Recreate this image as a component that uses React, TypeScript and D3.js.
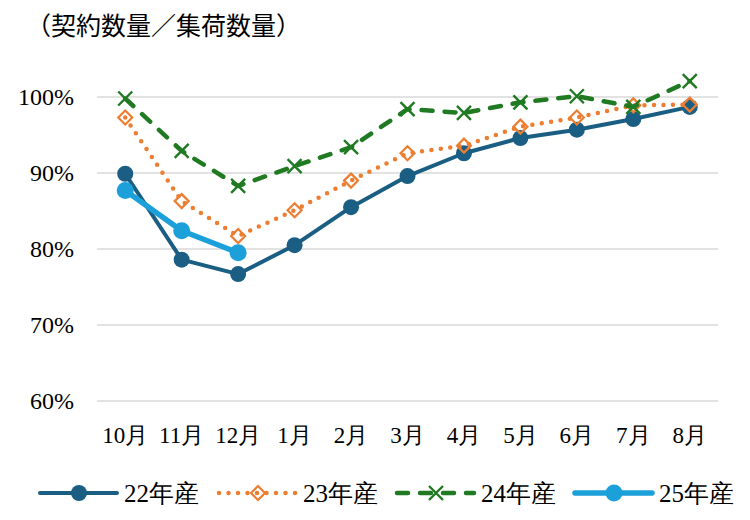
import React from 'react';
import * as d3 from 'd3';

const months = ['10月', '11月', '12月', '1月', '2月', '3月', '4月', '5月', '6月', '7月', '8月'];
const yTicks = [60, 70, 80, 90, 100];

const s22 = [89.9, 78.6, 76.7, 80.5, 85.5, 89.6, 92.6, 94.6, 95.7, 97.1, 98.7];
const s23 = [97.3, 86.3, 81.7, 85.1, 89.0, 92.6, 93.6, 96.1, 97.3, 98.9, 99.0];
const s24 = [99.8, 92.9, 88.3, 90.9, 93.4, 98.4, 97.9, 99.3, 100.1, 98.7, 102.1];
const s25 = [87.7, 82.4, 79.5];

const seriesNames = ['22年産', '23年産', '24年産', '25年産'];

const W = 750;
const H = 520;
const serif = "'Liberation Serif', 'Times New Roman', serif";
const sans = "'Noto Sans CJK JP', 'Noto Sans', sans-serif";

const C22 = '#1b5e83';
const C23 = '#ed7d31';
const C24 = '#1f7a22';
const C25 = '#1ca0da';

type Style = {
  color: string;
  width: number;
  dash?: string;
  marker: 'circle' | 'diamond' | 'x';
  r: number;
};

const styles: Style[] = [
  {color: C22, width: 4, marker: 'circle', r: 8},
  {color: C23, width: 4.5, dash: '0 9.5', marker: 'diamond', r: 7},
  {color: C24, width: 4.5, dash: '11 12', marker: 'x', r: 7},
  {color: C25, width: 5.5, marker: 'circle', r: 8.5},
];

const Marker = ({x, y, st}: {x: number; y: number; st: Style}) => {
  if (st.marker === 'circle') {
    return <circle cx={x} cy={y} r={st.r} fill={st.color} />;
  }
  const r = st.r;
  if (st.marker === 'diamond') {
    return (
      <path
        d={`M${x},${y - r}L${x + r},${y}L${x},${y + r}L${x - r},${y}Z`}
        fill="none"
        stroke={st.color}
        strokeWidth={2.2}
      />
    );
  }
  return (
    <path
      d={`M${x - r},${y - r}L${x + r},${y + r}M${x - r},${y + r}L${x + r},${y - r}`}
      stroke={st.color}
      strokeWidth={2.4}
      fill="none"
    />
  );
};

export default function App() {
  const x = d3.scaleBand<string>().domain(months).range([97, 718]);
  const cx = (m: string) => (x(m) as number) + x.bandwidth() / 2;
  const y = d3.scaleLinear().domain([60, 100]).range([401, 97]);

  const data = [s22, s23, s24, s25];
  const line = d3
    .line<number>()
    .x((_, i) => cx(months[i]))
    .y((d) => y(d));

  const legendX = [40, 219, 397, 575];

  return (
    <svg
      width={W}
      height={H}
      style={{position: 'absolute', left: 0, top: 0, background: '#fff'}}
    >
      <rect width={W} height={H} fill="#fff" />
      <text x={26} y={35} style={{fontFamily: sans, fontSize: 25}} fill="#000">
        （契約数量／集荷数量）
      </text>

      {yTicks.map((t) => (
        <g key={t}>
          <line x1={97} x2={718} y1={y(t)} y2={y(t)} stroke="#d9d9d9" strokeWidth={1.5} />
          <text
            x={74}
            y={y(t) + 8}
            textAnchor="end"
            style={{fontFamily: serif, fontSize: 24}}
            fill="#000"
          >
            {t}%
          </text>
        </g>
      ))}

      {months.map((m) => (
        <text
          key={m}
          x={cx(m)}
          y={443}
          textAnchor="middle"
          style={{fontFamily: serif, fontSize: 23}}
          fill="#000"
        >
          {m}
        </text>
      ))}

      {data.map((vals, si) => {
        const st = styles[si];
        return (
          <g key={si}>
            <path
              d={line(vals) as string}
              fill="none"
              stroke={st.color}
              strokeWidth={st.width}
              strokeDasharray={st.dash}
              strokeLinecap={st.dash ? 'round' : 'butt'}
              strokeLinejoin="round"
            />
            {vals.map((v, i) => (
              <Marker key={i} x={cx(months[i])} y={y(v)} st={st} />
            ))}
          </g>
        );
      })}

      {seriesNames.map((name, si) => {
        const st = styles[si];
        const lx = legendX[si];
        const ly = 493;
        return (
          <g key={name}>
            <line
              x1={lx}
              x2={lx + 77}
              y1={ly}
              y2={ly}
              stroke={st.color}
              strokeWidth={st.width}
              strokeDasharray={st.dash}
              strokeLinecap="round"
            />
            <Marker x={lx + 39} y={ly} st={st} />
            <text
              x={lx + 84}
              y={ly + 9}
              style={{fontFamily: serif, fontSize: 25}}
              fill="#000"
            >
              {name}
            </text>
          </g>
        );
      })}
    </svg>
  );
}
